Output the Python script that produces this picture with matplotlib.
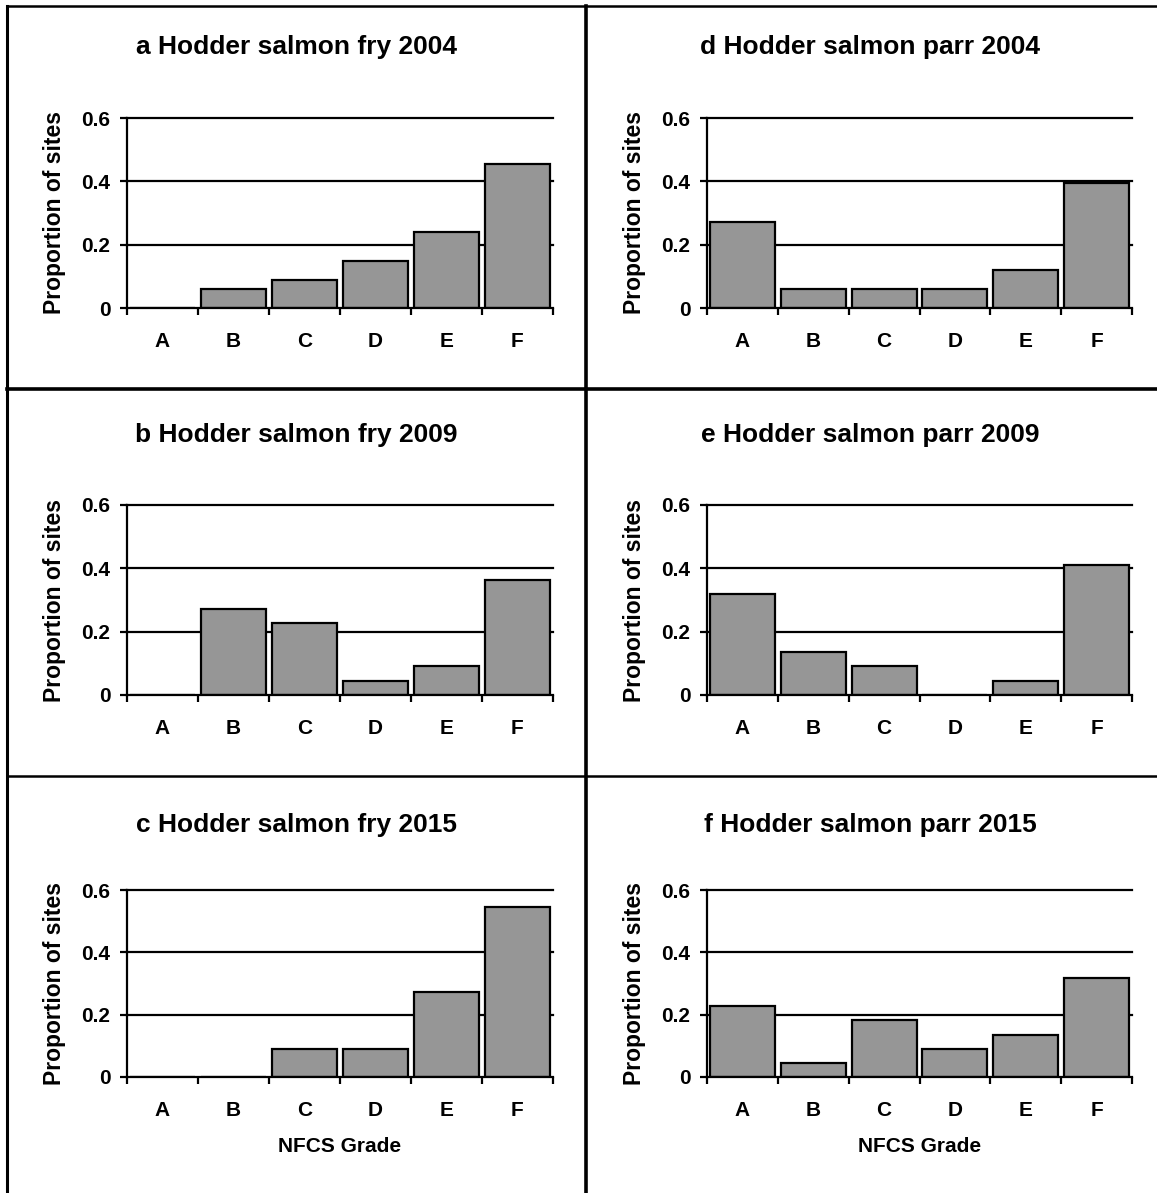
import matplotlib
matplotlib.use("Agg")
import matplotlib.pyplot as plt
from matplotlib.lines import Line2D
import numpy as np

plt.rcParams['font.family'] = ['Liberation Sans', 'DejaVu Sans']
plt.rcParams['font.weight'] = 'bold'

grades = ['A', 'B', 'C', 'D', 'E', 'F']
fry_2004 = [0.0, 0.06, 0.09, 0.15, 0.24, 0.455]
fry_2009 = [0.0, 0.273, 0.227, 0.045, 0.091, 0.364]
fry_2015 = [0.0, 0.0, 0.091, 0.091, 0.273, 0.545]
parr_2004 = [0.273, 0.06, 0.06, 0.06, 0.12, 0.394]
parr_2009 = [0.318, 0.136, 0.091, 0.0, 0.045, 0.409]
parr_2015 = [0.227, 0.045, 0.182, 0.091, 0.136, 0.318]
yticks = [0, 0.2, 0.4, 0.6]
ytick_labels = ['0', '0.2', '0.4', '0.6']
titles = ['a Hodder salmon fry 2004', 'b Hodder salmon fry 2009', 'c Hodder salmon fry 2015',
          'd Hodder salmon parr 2004', 'e Hodder salmon parr 2009', 'f Hodder salmon parr 2015']
ylabel = 'Proportion of sites'
xlabel = 'NFCS Grade'

series = [fry_2004, fry_2009, fry_2015, parr_2004, parr_2009, parr_2015]

W, H = 1157, 1193
fig = plt.figure(figsize=(W / 100, H / 100), dpi=100)

def fx(px):
    return px / W

def fy(py):
    return 1 - py / H

# layout in pixels
col_panel = [(7, 585), (585, 1155)]
col_axes = [(127, 553), (707, 1132)]
row_axes = [(118, 308), (505, 695), (890, 1077)]
title_y = [47, 435, 825]

for i, (vals, title) in enumerate(zip(series, titles)):
    col = i // 3
    row = i % 3
    x0, x1 = col_axes[col]
    ytop, ybot = row_axes[row]
    ax = fig.add_axes([fx(x0), fy(ybot), fx(x1) - fx(x0), (ybot - ytop) / H])
    x = np.arange(len(grades))
    ax.bar(x, vals, width=0.92, color='#969696', edgecolor='black', linewidth=1.6, zorder=3)
    ax.set_xlim(-0.5, 5.5)
    ax.set_ylim(0, 0.6)
    ax.set_yticks(yticks)
    ax.set_yticklabels(ytick_labels)
    for yv in yticks[1:]:
        ax.axhline(yv, color='black', linewidth=1.6, zorder=1, clip_on=False)
    ax.set_xticks(x)
    ax.set_xticklabels(grades)
    ax.set_xticks(np.arange(-0.5, 6.0, 1.0), minor=True)
    ax.tick_params(axis='x', which='major', length=0, pad=17, labelsize=15)
    ax.tick_params(axis='x', which='minor', length=5, width=1.6, direction='out')
    ax.tick_params(axis='y', length=5, width=1.6, direction='out', pad=7, labelsize=15)
    for lab in ax.get_xticklabels() + ax.get_yticklabels():
        lab.set_fontweight('bold')
    for s in ['top', 'right']:
        ax.spines[s].set_visible(False)
    for s in ['left', 'bottom']:
        ax.spines[s].set_linewidth(1.6)
        ax.spines[s].set_zorder(4)
    ax.set_ylabel(ylabel, fontsize=16.5, fontweight='bold')
    ax.yaxis.set_label_coords(-0.143, 0.5)
    ax.set_facecolor('none')
    px0, px1 = col_panel[col]
    fig.text(fx((px0 + px1) / 2), fy(title_y[row]), title, ha='center', va='center',
             fontsize=19, fontweight='bold')
    if row == 2:
        fig.text(fx((x0 + x1) / 2), fy(1146), xlabel, ha='center', va='center',
                 fontsize=15, fontweight='bold')

# panel borders
fig.add_artist(Line2D([fx(7), fx(7)], [fy(6), fy(H)], color='black', linewidth=2.2))
fig.add_artist(Line2D([fx(586), fx(586)], [fy(6), fy(H)], color='black', linewidth=2.6))
fig.add_artist(Line2D([fx(7), 1.0], [fy(6), fy(6)], color='black', linewidth=1.8))
fig.add_artist(Line2D([fx(7), 1.0], [fy(389), fy(389)], color='black', linewidth=2.6))
fig.add_artist(Line2D([fx(7), 1.0], [fy(776), fy(776)], color='black', linewidth=1.8))

fig.savefig('out.png', dpi=100)
